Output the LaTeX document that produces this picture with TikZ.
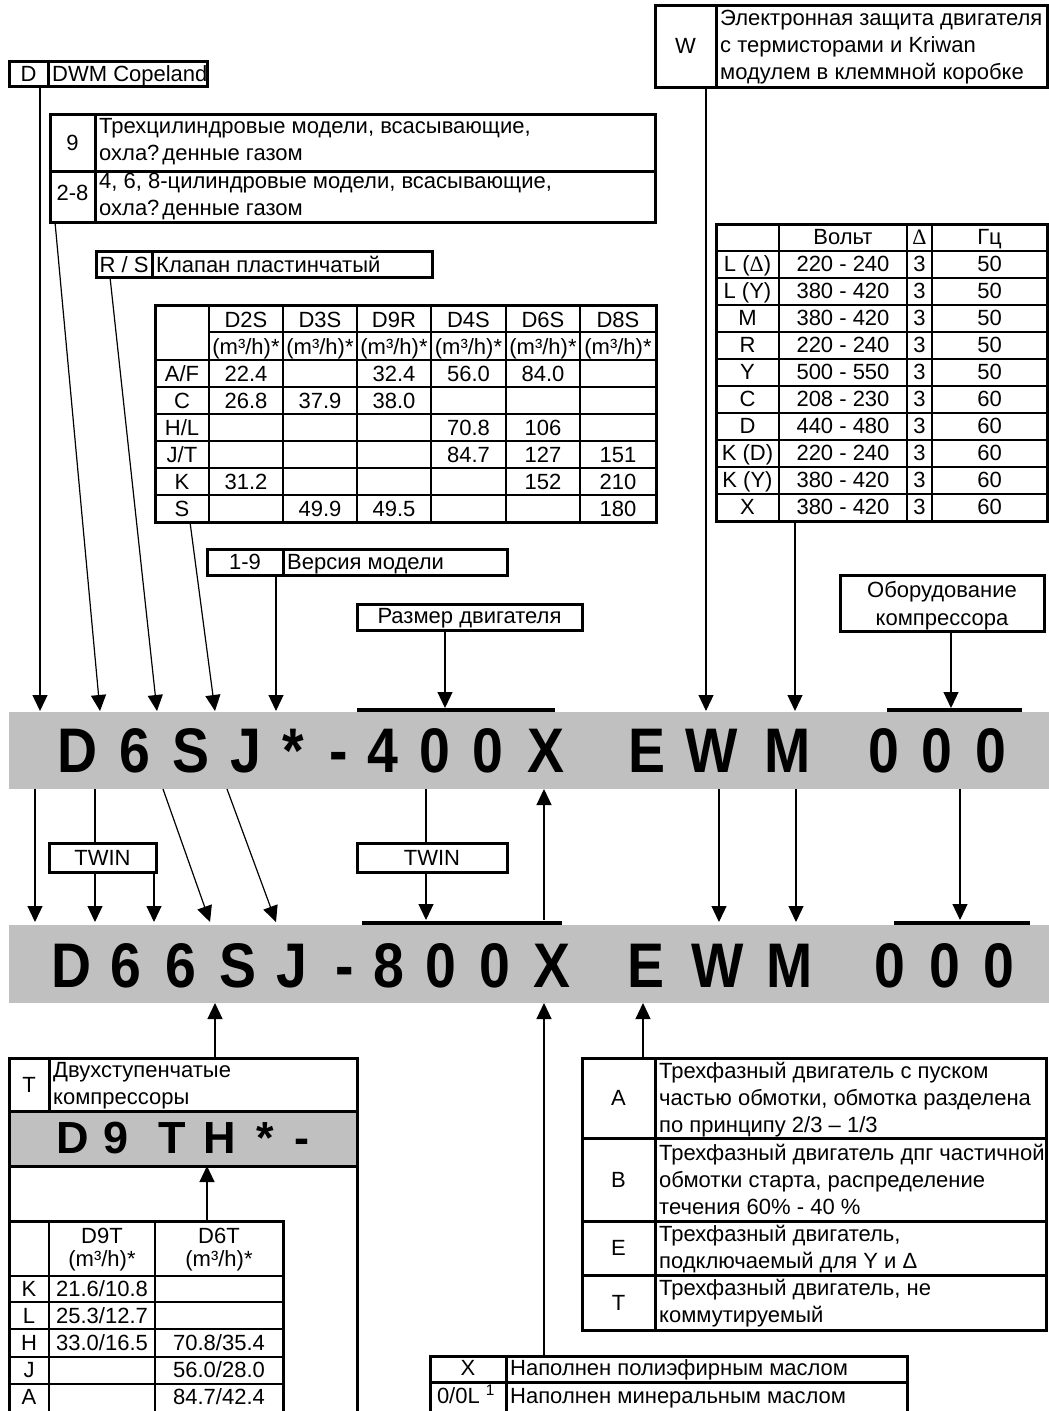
\documentclass[tikz,border=0pt]{standalone}
\usepackage{fontspec}
\setmainfont{Liberation Sans}
\newfontfamily\deltafont{Liberation Serif}
\usetikzlibrary{arrows.meta}
\definecolor{codegray}{RGB}{192,192,192}
\newcommand\narrowchar[1]{\scalebox{0.88}[1]{#1}}
\tikzset{
  txt/.style={font=\fontsize{22}{27}\selectfont, inner sep=0pt, anchor=base},
  ltxt/.style={txt, anchor=base west},
  boxline/.style={line width=3pt},
  cellline/.style={line width=2pt},
  pointer/.style={line width=1.2pt, -{Triangle[length=16pt,width=15pt]}},
  codechar/.style={font=\fontsize{63}{63}\selectfont\bfseries, inner sep=0pt, anchor=base},
  smallcode/.style={font=\fontsize{45}{45}\selectfont\bfseries, inner sep=0pt, anchor=base},
}
\begin{document}
\begin{tikzpicture}[x=1pt,y=-1pt]
\clip (0,0) rectangle (1049,1411);
\fill[white] (0,0) rectangle (1049,1411);

% manufacturer
\draw[boxline] (9,61) rectangle (207,86) (48,61) -- (48,86);
\node[txt] (keyD) at (28.5,81) {D};
\node[ltxt] (txtD) at (52,81) {DWM Copeland};

% cylinders
\draw[boxline] (50,114) rectangle (655,222) (50,171) -- (655,171) (95,114) -- (95,222);
\node[txt] (keyNine) at (72.5,150) {9};
\node[ltxt] (txtNineA) at (99,133) {Трехцилиндровые модели, всасывающие,};
\node[ltxt] (txtNineB) at (99,160) {охла?\kern3pt денные газом};
\node[txt] (keyTwoEight) at (72.5,200) {2-8};
\node[ltxt] (txtTwoEightA) at (99,188) {4, 6, 8-цилиндровые модели, всасывающие,};
\node[ltxt] (txtTwoEightB) at (99,215) {охла?\kern3pt денные газом};

% valve
\draw[boxline] (96,251) rectangle (432,277) (152,251) -- (152,277);
\node[txt] (keyRS) at (124,272) {R / S};
\node[ltxt] (txtRS) at (156,272) {Клапан пластинчатый};

% displacement table
\draw[boxline] (155,305) rectangle (656,522);
\foreach \x in {209,283,357,431,506,580} \draw[cellline] (\x,305) -- (\x,522);
\draw[cellline] (209,332) -- (656,332);
\foreach \y in {360,387,414,441,468,495} \draw[cellline] (155,\y) -- (656,\y);
\foreach \n/\x [count=\i] in {D2S/246,D3S/320,D9R/394,D4S/468.5,D6S/543,D8S/618}{
  \node[txt] (dispHead\i) at (\x,327) {\n};
  \node[txt] (dispUnit\i) at (\x,354) {(m³/h)*};
}
\foreach \r/\a/\b/\c/\d/\e/\f [count=\j] in {{A/F}/22.4//32.4/56.0/84.0/, C/26.8/37.9/38.0///, {H/L}////70.8/106/, {J/T}////84.7/127/151, K/31.2////152/210, S//49.9/49.5///180}{
  \node[txt] (dispKey\j) at (182,354+27*\j) {\r};
  \node[txt] (dispA\j) at (246,354+27*\j) {\a};
  \node[txt] (dispB\j) at (320,354+27*\j) {\b};
  \node[txt] (dispC\j) at (394,354+27*\j) {\c};
  \node[txt] (dispD\j) at (468.5,354+27*\j) {\d};
  \node[txt] (dispE\j) at (543,354+27*\j) {\e};
  \node[txt] (dispF\j) at (618,354+27*\j) {\f};
}

% version
\draw[boxline] (207,549) rectangle (507,575) (283,549) -- (283,575);
\node[txt] (keyVer) at (245,569) {1-9};
\node[ltxt] (txtVer) at (287,569) {Версия модели};

% motor size
\draw[boxline] (357,604) rectangle (582,630);
\node[txt] (txtSize) at (469.5,623) {Размер двигателя};

% protection
\draw[boxline] (655,5) rectangle (1047,87) (716,5) -- (716,87);
\node[txt] (keyW) at (685.5,53) {W};
\node[ltxt] (txtWA) at (720,25) {Электронная защита двигателя};
\node[ltxt] (txtWB) at (720,52) {с термисторами и Kriwan};
\node[ltxt] (txtWC) at (720,79) {модулем в клеммной коробке};

% voltage table
\draw[boxline] (716,224) rectangle (1047,521);
\foreach \x in {779,907,932} \draw[cellline] (\x,224) -- (\x,521);
\foreach \k in {1,...,10} \draw[cellline] (716,224+27*\k) -- (1047,224+27*\k);
\node[txt] (voltHead) at (843,244.5) {Вольт};
\node[txt] (phaseHead) at (919.5,244.5) {\deltafont Δ};
\node[txt] (freqHead) at (989.5,244.5) {Гц};
\foreach \a/\b/\c [count=\k] in {{L ({\deltafont Δ})}/220 - 240/50, L (Y)/380 - 420/50, M/380 - 420/50, R/220 - 240/50, Y/500 - 550/50, C/208 - 230/60, D/440 - 480/60, K (D)/220 - 240/60, K (Y)/380 - 420/60, X/380 - 420/60}{
  \node[txt] (voltKey\k) at (747.5,244.5+27*\k) {\a};
  \node[txt] (volt\k) at (843,244.5+27*\k) {\b};
  \node[txt] (phase\k) at (919.5,244.5+27*\k) {3};
  \node[txt] (freq\k) at (989.5,244.5+27*\k) {\c};
}

% equipment
\draw[boxline] (840,575) rectangle (1044,631);
\node[txt] (txtEquipA) at (942,597) {Оборудование};
\node[txt] (txtEquipB) at (942,625) {компрессора};

% upper code
\fill[codegray] (9,712) rectangle (1049,789);
\fill (357,708) rectangle (555,712);
\fill (887,708) rectangle (1022,712);
\foreach \c/\x [count=\i] in {D/78,6/135,S/191,J/246,*/293,-/339,4/383,0/435,0/488,X/546,E/647,W/712,M/788,0/884,0/937,0/991}
  \node[codechar] (upper\i) at (\x,772) {\narrowchar{\c}};

% arrows into upper code
\foreach \xa/\ya/\xb/\yb [count=\i] in {40/86/40/711, 55/222/100/711, 110/277/157/711, 190/522/215/711, 276/575/276/711, 445/630/445/708, 706/87/706/711, 795/521/795/711, 951/631/951/708}{
  \coordinate (srcTop\i) at (\xa,\ya);
  \coordinate (dstTop\i) at (\xb,\yb);
  \draw[pointer] (srcTop\i) -- (dstTop\i);
}

% arrows between the codes
\foreach \xa/\ya/\xb/\yb [count=\i] in {35/789/35/922, 95/789/95/922, 154/872/154/922, 163/789/210/922, 227/789/276/922, 426/789/426/920, 544/920/544/789, 719/789/719/922, 796/789/796/922, 960/789/960/920}{
  \coordinate (srcMid\i) at (\xa,\ya);
  \coordinate (dstMid\i) at (\xb,\yb);
  \draw[pointer] (srcMid\i) -- (dstMid\i);
}
\draw[boxline, fill=white] (49,843) rectangle (156,872);
\node[txt] (twinA) at (102.5,865) {TWIN};
\draw[boxline, fill=white] (357,843) rectangle (507,872);
\node[txt] (twinB) at (432,865) {TWIN};

% lower code
\fill (362,921) rectangle (562,925);
\fill (894,921) rectangle (1030,925);
\fill[codegray] (9,925) rectangle (1049,1003);
\foreach \c/\x [count=\i] in {D/72,6/126,6/181,S/238,J/292,-/345,8/389,0/441,0/495,X/552,E/646,W/718,M/790,0/890,0/945,0/999}
  \node[codechar] (lower\i) at (\x,987) {\narrowchar{\c}};

% two stage
\draw[boxline] (9,1411) -- (9,1058) -- (357,1058) -- (357,1411);
\draw[boxline] (49,1058) -- (49,1111);
\fill[codegray] (9,1111) rectangle (357,1166);
\draw[boxline] (9,1111) rectangle (357,1166);
\node[txt] (keyT) at (29,1092) {T};
\node[ltxt] (txtTA) at (53,1077) {Двухступенчатые};
\node[ltxt] (txtTB) at (53,1104) {компрессоры};
\foreach \c/\x [count=\i] in {D/73,9/116,T/172,H/220,*/265,-/302}
  \node[smallcode] (stage\i) at (\x,1153) {\c};

% two stage table
\draw[boxline] (9,1221) -- (283,1221) -- (283,1411);
\foreach \x in {49,155} \draw[cellline] (\x,1221) -- (\x,1411);
\foreach \y in {1276,1302,1329,1357,1384} \draw[cellline] (9,\y) -- (283,\y);
\node[txt] (stageHeadA) at (102,1243) {D9T};
\node[txt] (stageUnitA) at (102,1266) {(m³/h)*};
\node[txt] (stageHeadB) at (219,1243) {D6T};
\node[txt] (stageUnitB) at (219,1266) {(m³/h)*};
\foreach \r/\a/\b [count=\j] in {K/{21.6/10.8}/, L/{25.3/12.7}/, H/{33.0/16.5}/{70.8/35.4}, J//{56.0/28.0}, A//{84.7/42.4}}{
  \node[txt] (stageKey\j) at (29,1269+27*\j) {\r};
  \node[txt] (stageA\j) at (102,1269+27*\j) {\a};
  \node[txt] (stageB\j) at (219,1269+27*\j) {\b};
}

% motor version
\draw[boxline] (582,1058) rectangle (1046,1330) (655,1058) -- (655,1330);
\foreach \y in {1138,1221,1275} \draw[boxline] (582,\y) -- (1046,\y);
\node[txt] (keyA) at (618.5,1105) {A};
\node[ltxt] (txtAA) at (659,1078) {Трехфазный двигатель с пуском};
\node[ltxt] (txtAB) at (659,1105) {частью обмотки, обмотка разделена};
\node[ltxt] (txtAC) at (659,1132) {по принципу 2/3 – 1/3};
\node[txt] (keyB) at (618.5,1187) {B};
\node[ltxt] (txtBA) at (659,1160) {Трехфазный двигатель дпг частичной};
\node[ltxt] (txtBB) at (659,1187) {обмотки старта, распределение};
\node[ltxt] (txtBC) at (659,1214) {течения 60\% - 40 \%};
\node[txt] (keyE) at (618.5,1255) {E};
\node[ltxt] (txtEA) at (659,1241) {Трехфазный двигатель,};
\node[ltxt] (txtEB) at (659,1268) {подключаемый для Y и Δ};
\node[txt] (keyTT) at (618.5,1310) {T};
\node[ltxt] (txtTTA) at (659,1295) {Трехфазный двигатель, не};
\node[ltxt] (txtTTB) at (659,1322) {коммутируемый};

% oil
\draw[boxline] (430,1356) rectangle (907,1440) (506,1356) -- (506,1440) (430,1382) -- (907,1382);
\node[txt] (keyX) at (468,1375) {X};
\node[ltxt] (txtX) at (510,1375) {Наполнен полиэфирным маслом};
\node[txt] (keyOil) at (466,1403) {0/0L \textsuperscript{1}};
\node[ltxt] (txtOil) at (510,1403) {Наполнен минеральным маслом};

% arrows into lower code
\foreach \xa/\ya/\xb/\yb [count=\i] in {215/1058/215/1003, 544/1356/544/1003, 643/1058/643/1003, 207/1221/207/1166}{
  \coordinate (srcLow\i) at (\xa,\ya);
  \coordinate (dstLow\i) at (\xb,\yb);
  \draw[pointer] (srcLow\i) -- (dstLow\i);
}
\end{tikzpicture}
\end{document}
